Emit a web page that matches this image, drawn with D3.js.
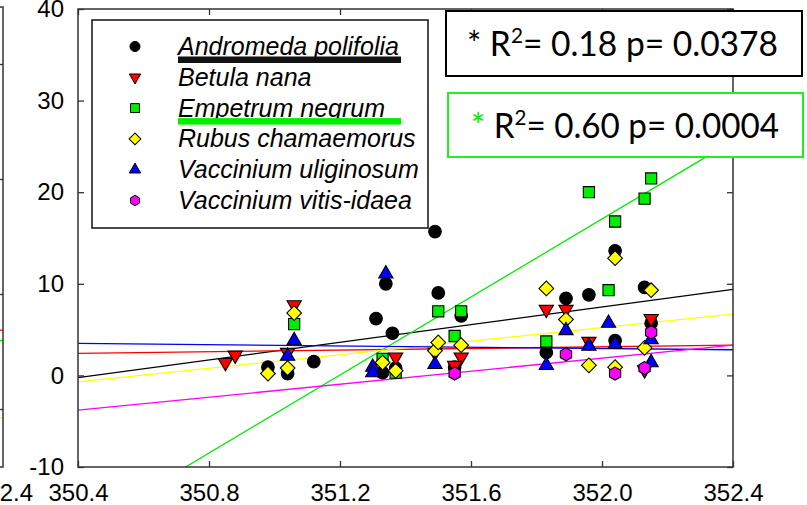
<!DOCTYPE html>
<html>
<head>
<meta charset="utf-8">
<script src="https://cdn.jsdelivr.net/npm/d3@7"></script>
<style>
  html, body { margin: 0; padding: 0; background: #fff; }
  svg { display: block; }
</style>
</head>
<body>
<svg id="chart" width="807" height="505"></svg>
<script>
// ---- data ---------------------------------------------------------------
const xTicks = [350.4, 350.8, 351.2, 351.6, 352.0, 352.4];
const yTicks = [-10, 0, 10, 20, 30, 40];

const speciesNames = [
  "Andromeda polifolia",
  "Betula nana",
  "Empetrum negrum",
  "Rubus chamaemorus",
  "Vaccinium uliginosum",
  "Vaccinium vitis-idaea"
];
const speciesColors = ["#000000", "#ff0000", "#00ee00", "#ffff00", "#0000ff", "#ff00ff"];
const speciesShapes = ["circle", "triangleDown", "square", "diamond", "triangleUp", "hexagon"];

// [x, y] observations per species
const andromeda = [
  [350.98, 0.9], [351.04, 0.2], [351.12, 1.5], [351.31, 6.2], [351.34, 10.0],
  [351.36, 4.6], [351.33, 0.3], [351.37, 0.8], [351.49, 15.7], [351.50, 9.0],
  [351.57, 6.5], [351.55, 0.9], [351.83, 2.5], [351.89, 8.4], [351.96, 8.8],
  [352.04, 13.6], [352.04, 3.8], [352.13, 9.6], [352.15, 5.7]
];
const betula = [
  [350.85, 1.4], [350.88, 2.2], [351.06, 7.7], [351.04, 2.5], [351.37, 2.0],
  [351.49, 2.5], [351.57, 2.0], [351.55, 1.1], [351.83, 7.2], [351.89, 7.2],
  [351.96, 3.7], [352.15, 6.2], [352.13, 0.6]
];
const empetrum = [
  [351.06, 5.6], [351.33, 1.8], [351.37, 0.3], [351.50, 7.0], [351.57, 7.0],
  [351.55, 4.3], [351.83, 3.7], [351.96, 20.0], [352.02, 9.3], [352.04, 16.8],
  [352.13, 19.3], [352.15, 21.5]
];
const rubus = [
  [350.98, 0.2], [351.04, 0.8], [351.06, 6.8], [351.33, 1.4], [351.37, 0.5],
  [351.49, 2.7], [351.50, 3.6], [351.57, 3.3], [351.83, 9.5], [351.89, 6.1],
  [351.96, 1.1], [352.04, 12.8], [352.04, 0.9], [352.15, 9.3], [352.13, 3.0]
];
const uliginosum = [
  [351.06, 3.8], [351.04, 2.1], [351.30, 0.9], [351.30, 0.3], [351.34, 11.1],
  [351.49, 1.2], [351.83, 1.1], [351.89, 4.9], [351.96, 3.2], [352.02, 5.7],
  [352.04, 3.4], [352.15, 3.9], [352.15, 1.4]
];
const vitisIdaea = [
  [351.55, 0.2], [351.89, 2.3], [352.04, 0.2], [352.15, 4.7], [352.13, 0.8]
];
const speciesData = [andromeda, betula, empetrum, rubus, uliginosum, vitisIdaea];

// fitted regression line per species: [y at 350.4, y at 352.4]
const fitLines = [[-0.25, 9.4], [2.4, 3.3], [-17.0, 25.6], [-0.7, 6.7], [3.5, 2.8], [-3.8, 3.3]];

// regression statistics (boxes): significant fits for Andromeda and Empetrum
const statR2 = ["0.18", "0.60"];
const statP = ["0.0378", "0.0004"];
const statColors = ["#000000", "#22ee22"];
const statStarColors = ["#000000", "#00ee00"];
const underlined = [0, 2];

// neighbouring panel (only its right edge is in view)
const leftPanelTicks = [0, 10, 20, 30];
const leftFitEdge = [6.9, 6.0, -0.7];
const leftFitColors = ["#ff0000", "#00ee00", "#ffff00"];

// ---- layout ------------------------------------------------------------
const svg = d3.select("#chart");
const plot = { left: 78, right: 733, top: 9, bottom: 467 };

const x = d3.scaleLinear().domain([350.4, 352.4]).range([plot.left, plot.right]);
const y = d3.scaleLinear().domain([-10, 40]).range([plot.bottom, plot.top]);

const tickFont = "'Liberation Sans', Arial, sans-serif";
const frameColor = "#333";
const labelBase = 501;

// ---- neighbouring panel edge ------------------------------------------
const xl = d3.scaleLinear().domain([350.4, 352.4]).range([-652, 3]);
const yl = d3.scaleLinear().domain([-5, 35]).range([plot.bottom, plot.top - 2]);
const leftG = svg.append("g");
leftFitEdge.forEach((v, i) => {
  leftG.append("line")
    .attr("x1", xl(352.3)).attr("x2", xl(352.4))
    .attr("y1", yl(v)).attr("y2", yl(v))
    .attr("stroke", leftFitColors[i]).attr("stroke-width", 1.3);
});
leftG.append("rect")
  .attr("x", xl(350.4)).attr("y", yl(35))
  .attr("width", xl(352.4) - xl(350.4)).attr("height", yl(-5) - yl(35))
  .attr("fill", "none").attr("stroke", frameColor).attr("stroke-width", 1.5);
leftG.selectAll("line.tick").data(leftPanelTicks).join("line")
  .attr("class", "tick")
  .attr("x1", xl(352.4)).attr("x2", xl(352.4) - 6)
  .attr("y1", d => yl(d)).attr("y2", d => yl(d))
  .attr("stroke", frameColor).attr("stroke-width", 1.3);
leftG.append("text")
  .attr("x", xl(352.4)).attr("y", labelBase)
  .attr("text-anchor", "middle")
  .style("font-family", tickFont).style("font-size", "24px")
  .text("352.4");

// ---- axes --------------------------------------------------------------
const fmtX = d3.format(".1f");
const axisBottom = d3.axisBottom(x).tickValues(xTicks).tickFormat(fmtX).tickSizeInner(-6).tickSizeOuter(0);
const axisTop = d3.axisTop(x).tickValues(xTicks).tickFormat("").tickSizeInner(-6).tickSizeOuter(0);
const axisLeft = d3.axisLeft(y).tickValues(yTicks).tickFormat(d3.format("d")).tickSizeInner(-6).tickSizeOuter(0).tickPadding(14);
const axisRight = d3.axisRight(y).tickValues(yTicks).tickFormat("").tickSizeInner(-6).tickSizeOuter(0);

function styleAxis(g) {
  g.select(".domain").remove();
  g.selectAll(".tick line").attr("stroke", frameColor).attr("stroke-width", 1.3);
  g.selectAll(".tick text")
    .attr("fill", "#000")
    .style("font-family", tickFont)
    .style("font-size", "24px");
}

svg.append("g").attr("transform", `translate(0,${plot.bottom})`).call(axisBottom).call(styleAxis)
  .selectAll(".tick text").attr("dy", null).attr("y", labelBase - plot.bottom);
svg.append("g").attr("transform", `translate(0,${plot.top})`).call(axisTop).call(styleAxis);
svg.append("g").attr("transform", `translate(${plot.left},0)`).call(axisLeft).call(styleAxis)
  .selectAll(".tick text").text(d => d < 0 ? "-" + Math.abs(d) : d);
svg.append("g").attr("transform", `translate(${plot.right},0)`).call(axisRight).call(styleAxis);

// ---- clip for plotted content -----------------------------------------
svg.append("clipPath").attr("id", "plotClip")
  .append("rect")
  .attr("x", plot.left).attr("y", plot.top)
  .attr("width", plot.right - plot.left).attr("height", plot.bottom - plot.top);

// ---- regression lines --------------------------------------------------
const lineG = svg.append("g").attr("clip-path", "url(#plotClip)");
fitLines.forEach((ends, i) => {
  lineG.append("line")
    .attr("x1", x(350.4)).attr("y1", y(ends[0]))
    .attr("x2", x(352.4)).attr("y2", y(ends[1]))
    .attr("stroke", speciesColors[i])
    .attr("stroke-width", 1.3);
});

// ---- marker shapes -----------------------------------------------------
const hexagon = {
  draw(context, size) {
    const r = Math.sqrt(size * 2 / (3 * Math.sqrt(3)));
    for (let k = 0; k < 6; k++) {
      const a = Math.PI / 2 + k * Math.PI / 3;
      const px = r * Math.cos(a), py = -r * Math.sin(a);
      if (k === 0) context.moveTo(px, py); else context.lineTo(px, py);
    }
    context.closePath();
  }
};

function markerPath(shape, scale) {
  const s = scale || 1;
  switch (shape) {
    case "circle": return { d: d3.symbol(d3.symbolCircle, 125 * s * s)(), rot: 0 };
    case "triangleDown": return { d: d3.symbol(d3.symbolTriangle, 88 * s * s)(), rot: 180 };
    case "triangleUp": return { d: d3.symbol(d3.symbolTriangle, 88 * s * s)(), rot: 0 };
    case "square": return { d: d3.symbol(d3.symbolSquare, 125 * s * s)(), rot: 0 };
    case "diamond": return { d: d3.symbol(d3.symbolSquare, 108 * s * s)(), rot: 45 };
    case "hexagon": return { d: d3.symbol(hexagon, 110 * s * s)(), rot: 0 };
  }
}

// ---- points ------------------------------------------------------------
const pointG = svg.append("g").attr("clip-path", "url(#plotClip)");
speciesData.forEach((pts, i) => {
  const m = markerPath(speciesShapes[i], 1);
  pointG.append("g").selectAll("path").data(pts).join("path")
    .attr("d", m.d)
    .attr("transform", d => `translate(${x(d[0])},${y(d[1])}) rotate(${m.rot})`)
    .attr("fill", speciesColors[i])
    .attr("stroke", "#000")
    .attr("stroke-width", 1.1);
});

// ---- frame -------------------------------------------------------------
svg.append("rect")
  .attr("x", plot.left).attr("y", plot.top)
  .attr("width", plot.right - plot.left).attr("height", plot.bottom - plot.top)
  .attr("fill", "none").attr("stroke", frameColor).attr("stroke-width", 1.5);

// ---- legend ------------------------------------------------------------
const legend = { x: 92, y: 20, w: 336, h: 208, rowStart: 55, rowStep: 30.8, markerX: 135, textX: 178 };
const legG = svg.append("g");
legG.append("rect")
  .attr("x", legend.x).attr("y", legend.y).attr("width", legend.w).attr("height", legend.h)
  .attr("fill", "#fff").attr("stroke", "#111").attr("stroke-width", 1.5);

speciesNames.forEach((name, i) => {
  const base = legend.rowStart + i * legend.rowStep;
  const m = markerPath(speciesShapes[i], 0.8);
  legG.append("path")
    .attr("d", m.d)
    .attr("transform", `translate(${legend.markerX},${base - 8.5}) rotate(${m.rot})`)
    .attr("fill", speciesColors[i]).attr("stroke", "#000").attr("stroke-width", 1);
  legG.append("text")
    .attr("x", legend.textX).attr("y", base)
    .style("font-family", tickFont).style("font-size", "25px").style("font-style", "italic")
    .attr("fill", "#000")
    .text(name);
});
// underline bars marking the species with a significant fit
underlined.forEach(i => {
  const base = legend.rowStart + i * legend.rowStep;
  legG.append("rect")
    .attr("x", legend.textX).attr("y", base + 1.5)
    .attr("width", 223).attr("height", 6.5)
    .attr("fill", i === 0 ? "#111" : "#00ee00");
});

// ---- statistic boxes ---------------------------------------------------
const statBoxes = [
  { x: 446, y: 11, w: 356, h: 65, tx: 467, base: 56, len: 311 },
  { x: 448, y: 93, w: 355, h: 64, tx: 471, base: 138, len: 308 }
];
const statFont = "Lato, 'Open Sans', sans-serif";
statBoxes.forEach((b, i) => {
  svg.append("rect")
    .attr("x", b.x).attr("y", b.y).attr("width", b.w).attr("height", b.h)
    .attr("fill", "#fff").attr("stroke", statColors[i]).attr("stroke-width", 2);
  const t = svg.append("text")
    .attr("x", b.tx).attr("y", b.base)
    .style("font-family", statFont).style("font-size", "34px")
    .attr("fill", "#000")
    .attr("textLength", b.len).attr("lengthAdjust", "spacingAndGlyphs");
  t.append("tspan").attr("fill", statStarColors[i]).text("*");
  t.append("tspan").text(" R");
  t.append("tspan").attr("dy", -13).style("font-size", "21px").text("2");
  t.append("tspan").attr("dy", 13).text(`= ${statR2[i]} p= ${statP[i]}`);
});
</script>
</body>
</html>
